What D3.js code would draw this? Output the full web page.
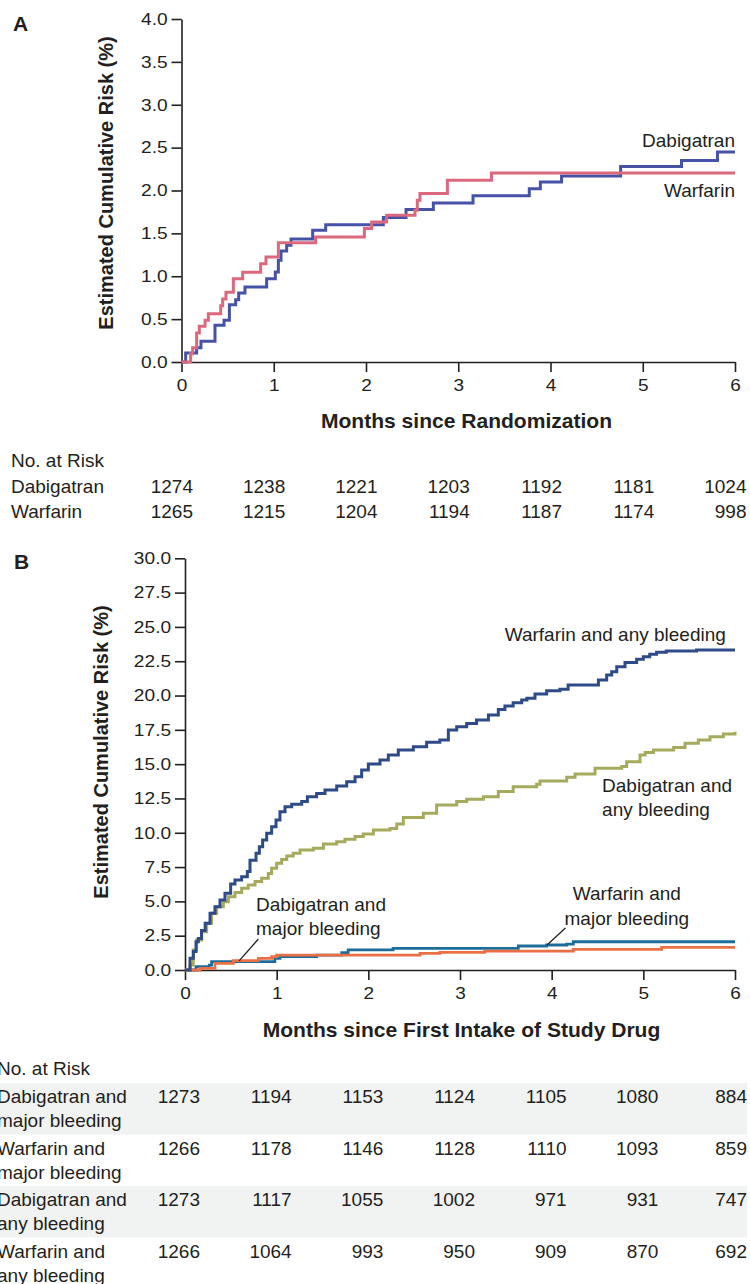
<!DOCTYPE html>
<html>
<head>
<meta charset="utf-8">
<script src="https://cdn.jsdelivr.net/npm/d3@7"></script>
<style>
  body { margin: 0; background: #fff; }
  svg { display: block; font-family: "Liberation Sans", Arial, Helvetica, sans-serif; }
</style>
</head>
<body>
<div id="chart"></div>
<script>
// ---- data ----
var months = [0, 1, 2, 3, 4, 5, 6];
var yTicksA = [0, 0.5, 1, 1.5, 2, 2.5, 3, 3.5, 4];
var yTicksB = [0, 2.5, 5, 7.5, 10, 12.5, 15, 17.5, 20, 22.5, 25, 27.5, 30];

// panel A: [month, cumulative risk %]
var dabigatranA = [[0,0],[0.045,0.105],[0.164,0.167],[0.211,0.241],[0.363,0.428],[0.461,0.486],
  [0.519,0.669],[0.587,0.727],[0.62,0.805],[0.688,0.875],[0.923,0.972],[1.017,1.05],[1.05,1.186],
  [1.079,1.295],[1.14,1.361],[1.187,1.435],[1.422,1.536],[1.563,1.602],[2.188,1.684],[2.434,1.778],
  [2.73,1.855],[3.16,1.94],[3.77,2.02],[3.89,2.1],[4.12,2.17],[4.76,2.28],[5.42,2.35],[5.81,2.45],[6,2.45]];
var warfarinA = [[0,0],[0.099,0.097],[0.121,0.167],[0.164,0.338],[0.193,0.416],[0.255,0.486],
  [0.291,0.564],[0.425,0.657],[0.446,0.735],[0.482,0.813],[0.562,0.972],[0.663,1.046],[0.858,1.147],
  [0.916,1.225],[1.05,1.392],[1.454,1.459],[1.982,1.556],[2.061,1.634],[2.224,1.711],[2.531,1.77],
  [2.556,1.886],[2.585,1.964],[2.882,2.12],[3.36,2.205],[6,2.205]];

// panel B
var warfarinAny = [[0,0],[0.055,0.85],[0.091,1.34],[0.12,2.06],[0.145,2.3],[0.18,2.87],[0.22,3.4],
  [0.273,4.13],[0.327,4.6],[0.382,5.1],[0.436,5.6],[0.498,6.27],[0.545,6.56],[0.618,6.8],[0.68,7.17],
  [0.709,8.0],[0.775,8.5],[0.811,8.99],[0.847,9.47],[0.891,9.96],[0.945,10.44],[0.993,10.93],
  [1.036,11.54],[1.091,11.9],[1.164,12.07],[1.273,12.27],[1.335,12.63],[1.436,12.87],[1.527,13.12],
  [1.655,13.41],[1.764,13.72],[1.855,14.09],[1.927,14.57],[2.0,15.01],[2.127,15.3],[2.218,15.67],
  [2.327,16.03],[2.491,16.27],[2.636,16.59],[2.78,16.76],[2.873,17.49],[2.964,17.73],[3.073,17.97],
  [3.18,18.22],[3.31,18.58],[3.418,18.99],[3.49,19.24],[3.58,19.48],[3.673,19.67],[3.73,19.8],
  [3.818,20.11],[3.945,20.35],[4.09,20.45],[4.18,20.77],[4.51,21.13],[4.6,21.5],[4.655,21.74],
  [4.71,22.1],[4.8,22.4],[4.927,22.64],[5.0,22.83],[5.07,23.0],[5.145,23.15],[5.25,23.25],
  [5.58,23.32],[6,23.32]];
var dabigatranAny = [[0,0],[0.055,0.36],[0.09,1.46],[0.127,2.19],[0.182,2.79],[0.236,3.4],[0.29,4.13],
  [0.345,4.6],[0.418,4.98],[0.473,5.34],[0.545,5.64],[0.618,5.95],[0.69,6.19],[0.764,6.44],
  [0.836,6.68],[0.909,7.04],[0.945,7.41],[1.0,7.77],[1.055,8.06],[1.11,8.31],[1.18,8.5],[1.255,8.74],
  [1.4,8.87],[1.51,9.18],[1.655,9.35],[1.745,9.52],[1.855,9.72],[1.945,9.91],[2.055,10.2],
  [2.236,10.32],[2.31,10.64],[2.382,11.12],[2.6,11.42],[2.745,12.02],[2.964,12.27],[3.073,12.44],
  [3.255,12.63],[3.418,13.0],[3.58,13.36],[3.836,13.53],[3.873,13.77],[4.164,14.04],[4.255,14.28],
  [4.473,14.7],[4.764,14.82],[4.818,15.18],[4.964,15.67],[5.02,15.84],[5.11,16.03],[5.33,16.22],
  [5.455,16.52],[5.6,16.76],[5.727,17.0],[5.873,17.2],[6,17.37]];
var warfarinMajor = [[0,0],[0.12,0.24],[0.265,0.36],[0.29,0.61],[0.98,0.85],[1.036,0.97],[1.436,1.09],
  [1.71,1.26],[1.78,1.46],[2.27,1.58],[3.636,1.75],[3.945,1.82],[4.164,1.89],[4.236,2.06],[6,2.06]];
var dabigatranMajor = [[0,0],[0.164,0.12],[0.327,0.49],[0.527,0.68],[0.8,0.85],[0.945,0.97],[1.0,1.09],
  [2.564,1.21],[2.78,1.29],[3.27,1.38],[4.236,1.5],[5.2,1.65],[6,1.65]];

// numbers at risk
var riskNamesA = ["Dabigatran", "Warfarin"];
var riskA = [[1274, 1238, 1221, 1203, 1192, 1181, 1024],
             [1265, 1215, 1204, 1194, 1187, 1174, 998]];
var riskNamesB = [["Dabigatran and", "major bleeding"], ["Warfarin and", "major bleeding"],
                  ["Dabigatran and", "any bleeding"], ["Warfarin and", "any bleeding"]];
var riskB = [[1273, 1194, 1153, 1124, 1105, 1080, 884],
             [1266, 1178, 1146, 1128, 1110, 1093, 859],
             [1273, 1117, 1055, 1002, 971, 931, 747],
             [1266, 1064, 993, 950, 909, 870, 692]];

// ---- drawing ----
var ink = "#231f20";
var svg = d3.select("#chart").append("svg")
    .attr("width", 750)
    .attr("height", 1284);

function txt(x, y, s, opt) {
  opt = opt || {};
  var t = svg.append("text")
    .attr("transform", "translate(" + x + "," + y + ")" + (opt.rot ? " rotate(" + opt.rot + ")" : "") +
          (opt.sx ? " scale(" + opt.sx + ",1)" : ""))
    .attr("font-size", (opt.size || 19) + "px")
    .attr("font-weight", opt.bold ? "bold" : "normal")
    .attr("text-anchor", opt.anchor || "start")
    .attr("fill", ink)
    .text(s);
  return t;
}

function axes(x, y, yTicks) {
  var bottom = y.range()[0];
  var gx = svg.append("g")
    .attr("transform", "translate(0," + bottom + ")")
    .call(d3.axisBottom(x).tickValues(months).tickFormat(d3.format("d"))
      .tickSize(10).tickSizeOuter(0).tickPadding(7));
  gx.selectAll("text").attr("font-size", "17px").attr("transform", "scale(1.12,1)");

  var gy = svg.append("g")
    .attr("transform", "translate(" + x.range()[0] + ",0)")
    .call(d3.axisLeft(y).tickValues(yTicks).tickFormat(d3.format(".1f"))
      .tickSize(10).tickSizeOuter(0).tickPadding(2));
  gy.selectAll("text").attr("font-size", "16.5px").attr("transform", "scale(1.16,1)");

  [gx, gy].forEach(function(g) {
    g.attr("font-family", null).attr("font-size", null);
    g.select(".domain").attr("stroke", ink).attr("stroke-width", 1.6);
    g.selectAll(".tick line").attr("stroke", ink).attr("stroke-width", 1.6);
    g.selectAll(".tick text").attr("fill", ink);
  });
}

function curve(x, y, data, color, w) {
  var line = d3.line().curve(d3.curveStepAfter)
    .x(function(d) { return x(d[0]); })
    .y(function(d) { return y(d[1]); });
  svg.append("path")
    .datum(data)
    .attr("d", line)
    .attr("fill", "none")
    .attr("stroke", color)
    .attr("stroke-width", w)
    .attr("stroke-linejoin", "miter");
}

// ===== Panel A =====
var xA = d3.scaleLinear().domain([0, 6]).range([181.5, 735]);
var yA = d3.scaleLinear().domain([0, 4]).range([362, 19]);

txt(13, 31, "A", {bold: true, size: 21});
axes(xA, yA, yTicksA);
curve(xA, yA, dabigatranA, "#4652a6", 3);
curve(xA, yA, warfarinA, "#db687d", 3);

txt(xA(6), yA(2.505), "Dabigatran", {anchor: "end"});
txt(xA(6), yA(1.92), "Warfarin", {anchor: "end"});

txt(113, 183, "Estimated Cumulative Risk (%)", {bold: true, size: 20, rot: -90, anchor: "middle"});
txt(466.5, 428, "Months since Randomization", {bold: true, size: 19.5, anchor: "middle", sx: 1.08});

// table A
txt(11, 467, "No. at Risk");
riskNamesA.forEach(function(name, i) {
  var base = 492.5 + i * 25;
  txt(11, base, name);
  riskA[i].forEach(function(v, j) {
    txt(xA(months[j]) + 11.5, base, v, {anchor: "end"});
  });
});

// ===== Panel B =====
var xB = d3.scaleLinear().domain([0, 6]).range([185, 735]);
var yB = d3.scaleLinear().domain([0, 30]).range([970, 558.3]);

txt(14, 569, "B", {bold: true, size: 21});
axes(xB, yB, yTicksB);
curve(xB, yB, warfarinMajor, "#1d6d9b", 2.8);
curve(xB, yB, dabigatranMajor, "#eb6f45", 2.8);
curve(xB, yB, dabigatranAny, "#a6aa5c", 3);
curve(xB, yB, warfarinAny, "#2e4a87", 3);

txt(xB(5.9), yB(23.98), "Warfarin and any bleeding", {anchor: "end"});
txt(xB(4.55), yB(12.97), "Dabigatran and", {});
txt(xB(4.55), yB(12.97) + 23.5, "any bleeding", {});
txt(xB(4.82), yB(5.1), "Warfarin and", {anchor: "middle"});
txt(xB(4.82), yB(5.1) + 24.5, "major bleeding", {anchor: "middle"});
txt(xB(0.775), yB(4.3), "Dabigatran and", {});
txt(xB(0.775), yB(4.3) + 24, "major bleeding", {});

// leader lines from labels to curves
var leaders = [[[4.15, 3.06], [3.95, 1.82]], [[0.8, 2.26], [0.59, 0.66]]];
leaders.forEach(function(l) {
  svg.append("line")
    .attr("x1", xB(l[0][0])).attr("y1", yB(l[0][1]))
    .attr("x2", xB(l[1][0])).attr("y2", yB(l[1][1]))
    .attr("stroke", ink).attr("stroke-width", 1.3);
});

txt(108, 752, "Estimated Cumulative Risk (%)", {bold: true, size: 20, rot: -90, anchor: "middle"});
txt(461.5, 1037, "Months since First Intake of Study Drug", {bold: true, size: 19.5, anchor: "middle", sx: 1.08});

// table B
txt(-3, 1075, "No. at Risk");
riskNamesB.forEach(function(name, i) {
  var top = 1083 + i * 51.5;
  if (i % 2 === 0) {
    svg.insert("rect", ":first-child")
      .attr("x", 0).attr("y", top).attr("width", 747).attr("height", 51.5)
      .attr("fill", "#f1f2f2");
  }
  txt(-3, top + 20, name[0]);
  txt(-3, top + 44, name[1]);
  riskB[i].forEach(function(v, j) {
    txt(Math.min(xB(months[j]) + 15, 747), top + 20, v, {anchor: "end"});
  });
});
</script>
</body>
</html>
